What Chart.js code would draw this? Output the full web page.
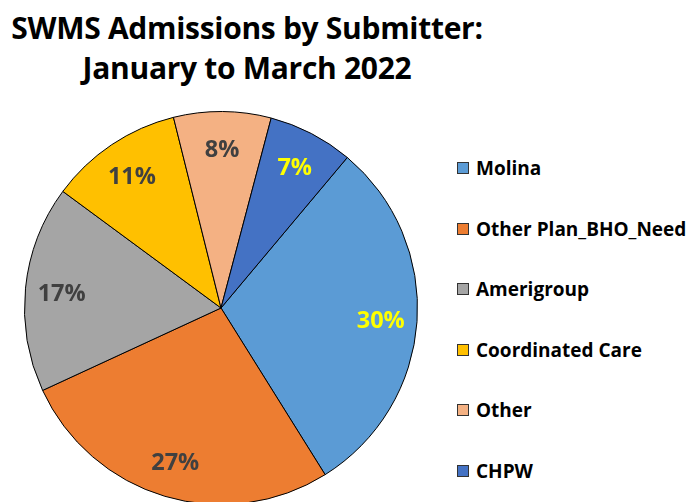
<!DOCTYPE html>
<html>
<head>
<meta charset="utf-8">
<script src="https://cdn.jsdelivr.net/npm/chart.js@4/dist/chart.umd.min.js"></script>
<style>
  html, body { margin: 0; padding: 0; background: #fff; }
  body { width: 689px; height: 502px; position: relative; overflow: hidden; font-family: "Open Sans", Lato, sans-serif; }
  #title { position: absolute; left: 0; top: 8px; width: 494px; text-align: center; font-weight: bold; font-size: 30px; line-height: 40px; color: #000; letter-spacing: -0.3px; }
  #pieWrap { position: absolute; left: 24px; top: 111px; width: 394px; height: 394px; }
  #legend { position: absolute; left: 457px; top: 155px; }
  .item { position: absolute; left: 0; height: 26px; white-space: nowrap; font-weight: bold; font-size: 19px; color: #000; display: flex; align-items: center; }
  .box { width: 10px; height: 10px; border: 1px solid #333; margin-right: 7px; }
</style>
</head>
<body>
<div id="title">SWMS Admissions by Submitter:<br>January to March 2022</div>
<div id="pieWrap"><canvas id="c"></canvas></div>
<div id="legend"></div>
<script>
const categories = ["Molina", "Other Plan_BHO_Need", "Amerigroup", "Coordinated Care", "Other", "CHPW"];
const percentages = [30, 27, 17, 11, 8, 7];
const sliceColors = ["#5B9BD5", "#ED7D31", "#A5A5A5", "#FFC000", "#F4B183", "#4472C4"];
const labelColors = ["#FFFF00", "#404040", "#404040", "#404040", "#404040", "#FFFF00"];

// legend (HTML)
const legend = document.getElementById('legend');
categories.forEach((name, i) => {
  const d = document.createElement('div');
  d.className = 'item';
  d.style.top = (i * 60.5) + 'px';
  d.innerHTML = '<span class="box" style="background:' + sliceColors[i] + '"></span><span>' + name + '</span>';
  legend.appendChild(d);
});

const pctLabels = {
  id: 'pctLabels',
  afterDatasetsDraw(chart) {
    const ctx = chart.ctx;
    const meta = chart.getDatasetMeta(0);
    ctx.save();
    ctx.font = 'bold 23.5px "Open Sans", sans-serif';
    ctx.textAlign = 'center';
    ctx.textBaseline = 'middle';
    meta.data.forEach((arc, i) => {
      const p = arc.getProps(['x', 'y', 'startAngle', 'endAngle', 'outerRadius'], true);
      const mid = (p.startAngle + p.endAngle) / 2;
      const r = p.outerRadius * 0.815;
      ctx.fillStyle = labelColors[i];
      ctx.fillText(percentages[i] + '%', p.x + Math.cos(mid) * r, p.y + Math.sin(mid) * r + 2);
    });
    ctx.restore();
  }
};

new Chart(document.getElementById('c'), {
  type: 'pie',
  data: {
    labels: categories,
    datasets: [{
      data: percentages,
      backgroundColor: sliceColors,
      borderColor: '#000',
      borderWidth: 1
    }]
  },
  options: {
    responsive: true,
    maintainAspectRatio: false,
    animation: false,
    rotation: 40,
    layout: { padding: 0 },
    plugins: { legend: { display: false }, tooltip: { enabled: false }, title: { display: false } }
  },
  plugins: [pctLabels]
});
</script>
</body>
</html>
